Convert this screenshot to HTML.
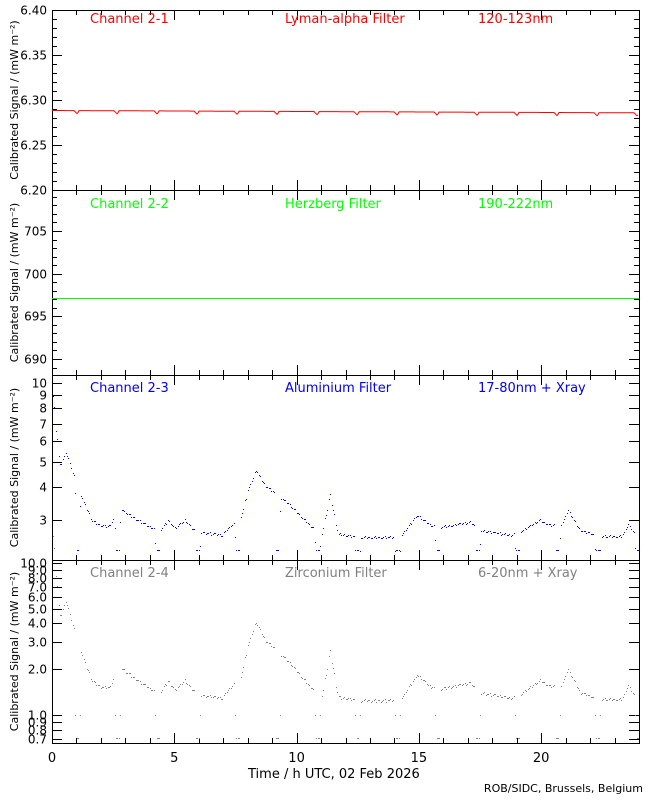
<!DOCTYPE html>
<html><head><meta charset="utf-8"><style>
body{margin:0;background:#fff;}
svg text{font-family:"DejaVu Sans","Liberation Sans",sans-serif;}
</style></head><body>
<svg id="s" width="650" height="800" xmlns="http://www.w3.org/2000/svg" shape-rendering="crispEdges">
<rect width="650" height="800" fill="#fff"/>
<g id="ax" stroke="#000" fill="none" stroke-width="1"></g>
<g id="lab" font-size="12" fill="#000"></g>
<g id="dat"></g>
<g font-size="13">
<text x="90" y="23" fill="#ff0000">Channel 2-1</text><text x="285" y="23" fill="#ff0000">Lyman-alpha Filter</text><text x="478" y="23" fill="#ff0000">120-123nm</text>
<text x="90" y="208" fill="#00ff00">Channel 2-2</text><text x="285" y="208" fill="#00ff00">Herzberg Filter</text><text x="478" y="208" fill="#00ff00">190-222nm</text>
<text x="90" y="392" fill="#0000ff">Channel 2-3</text><text x="285" y="392" fill="#0000ff">Aluminium Filter</text><text x="478" y="392" fill="#0000ff">17-80nm + Xray</text>
<text x="90" y="577" fill="#808080">Channel 2-4</text><text x="285" y="577" fill="#808080">Zirconium Filter</text><text x="478" y="577" fill="#808080">6-20nm + Xray</text>
</g>
<text x="248" y="778" font-size="13">Time / h UTC, 02 Feb 2026</text>
<text x="643" y="792" font-size="11" text-anchor="end">ROB/SIDC, Brussels, Belgium</text>
</svg>
<script>
var NS="http://www.w3.org/2000/svg",ax=document.getElementById('ax'),lab=document.getElementById('lab'),dat=document.getElementById('dat');
function el(p,t,a,txt){var e=document.createElementNS(NS,t);for(var k in a)e.setAttribute(k,a[k]);if(txt)e.textContent=txt;p.appendChild(e);return e;}
var X0=52,X1=639,panels=[[10,190],[190,375],[375,560],[560,743]];
var d="";
panels.forEach(function(p){
 el(ax,'rect',{x:X0+.5,y:p[0]+.5,width:X1-X0,height:p[1]-p[0]});
 for(var h=0;h<=24;h++){var x=Math.round(X0+h*(X1-X0)/24)+.5,L=h%5?5:10;d+="M"+x+" "+p[0]+"v"+L+"M"+x+" "+p[1]+"v"+(-L);}
 var cy=(p[0]+p[1])/2;
 el(lab,'text',{x:0,y:0,'font-size':11,'text-anchor':'middle',transform:'translate(18,'+cy+') rotate(-90)'},'Calibrated Signal / (mW m\u207B\u00B2)');
});
function yt(y,L,t){y=Math.round(y)+.5;d+="M"+X0+" "+y+"h"+L+"M"+X1+" "+y+"h"+(-L);if(t!=null)el(lab,'text',{x:47,y:y+4,'text-anchor':'end'},t);}
// panel1 linear 6.20-6.40
for(var i=0;i<=20;i++){var v=6.2+i*0.01,y=190-i*9;yt(y,i%5?5:10,i%5?null:v.toFixed(2));}
// panel2: 705@231,690@359
var s2=128/15;for(var v=688;v<=709;v++){var y=359-(v-690)*s2;if(y<191||y>374)continue;yt(y,v%5?5:10,v%5?null:String(v));}
// panel3 log: 10@383, 262px/decade
function y3(v){return 383-(Math.log10(v)-1)*262;}
[3,4,5,6,7,8,9,10].forEach(function(v){yt(y3(v),10,String(v));});
function y4(v){return 563-(Math.log10(v)-1)*152;}
[0.7,0.8,0.9,1,2,3,4,5,6,7,8,9,10].forEach(function(v){yt(y4(v),10,v.toFixed(1));});
el(ax,'path',{d:d});
// x labels
[0,5,10,15,20].forEach(function(h){el(lab,'text',{x:X0+h*(X1-X0)/24,y:762,'font-size':13,'text-anchor':'middle'},String(h));});
// panel1 red line with dips
var r="M52 110";for(var x=53;x<=638;x++){var ph=(x-75)%40;var y=110.5+(x-52)*0.004+(ph>=0&&ph<4?3-Math.abs(ph-2):0);r+="L"+x+" "+y.toFixed(1);}
el(dat,'path',{d:r,stroke:'#ff0000',fill:'none','shape-rendering':'auto'});
el(dat,'path',{d:'M52 298.5H639',stroke:'#00ff00',fill:'none'});
// profile for panel3
var kp=[[52,385],[56,430],[60,465],[66,452],[72,470],[78,487],[85,505],[92,520],[100,525],[110,526],[118,507],[130,515],[150,527],[160,530],[168,520],[175,528],[185,520],[192,528],[200,532],[222,535],[232,524],[240,520],[248,490],[256,470],[265,485],[290,505],[310,525],[322,533],[330,495],[338,534],[360,537],[385,537],[400,537],[417,515],[430,525],[440,527],[470,522],[480,530],[510,535],[520,532],[540,520],[550,525],[562,524],[568,510],[580,530],[600,536],[622,536],[628,524],[636,535],[639,550]];
function prof(x){for(var i=1;i<kp.length;i++){if(x<=kp[i][0]){var a=kp[i-1],b=kp[i];return a[1]+(b[1]-a[1])*(x-a[0])/(b[0]-a[0]);}}return 540;}
var b="",g="";
for(var x=53;x<639;x+=1.4){var xi=Math.round(x),ph=(xi-75)%40;var yy=prof(xi)+((xi*7919)%5-2)*0.5;
 var gap=(ph>=0&&ph<6)&&xi>70;
 var y3v=gap?(ph==0||ph==5?yy+15:550):yy;
 b+="M"+xi+" "+Math.round(y3v)+"h1v1h-1z";
 var y4v=622+(yy-470)*1.17; if(gap)y4v=(ph==0||ph==5)?715:738;
 if(y4v>741)y4v=741;
 g+="M"+xi+" "+Math.round(y4v)+"h1v1h-1z";}
el(dat,'path',{d:b,fill:'#0000ff'});el(dat,'path',{d:g,fill:'#808080'});
</script>
</body></html>
